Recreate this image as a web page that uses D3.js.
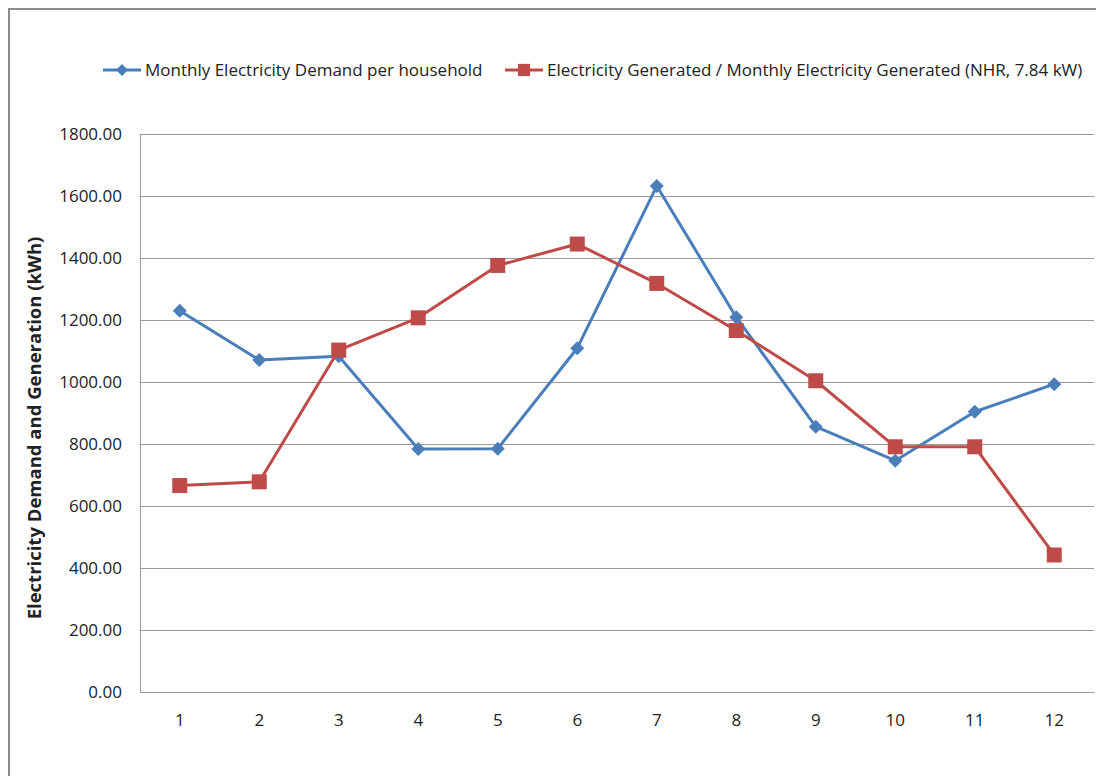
<!DOCTYPE html>
<html>
<head>
<meta charset="utf-8">
<script src="https://cdn.jsdelivr.net/npm/d3@7"></script>
<style>
  html, body { margin: 0; padding: 0; background: #fff; }
  svg text { font-family: "Open Sans", "Noto Sans", sans-serif; fill: #222; }
</style>
</head>
<body>
<svg id="chart" width="1096" height="776"></svg>
<script>
// Months of the year
const months = ["1", "2", "3", "4", "5", "6", "7", "8", "9", "10", "11", "12"];

// Monthly electricity demand per household (kWh)
const demand = [1230, 1071, 1083, 784, 785, 1109, 1632, 1209, 856, 746, 904, 993];

// Monthly electricity generated by a 7.84 kW system (kWh)
const generated = [666, 678, 1103, 1207, 1376, 1445, 1318, 1166, 1004, 791, 791, 442];

// Value axis ticks
const yTicks = [0, 200, 400, 600, 800, 1000, 1200, 1400, 1600, 1800];

const seriesNames = [
  "Monthly Electricity Demand per household",
  "Electricity Generated / Monthly Electricity Generated (NHR, 7.84 kW)"
];
const seriesColors = ["#4a7ebb", "#be4b48"];
const yTitle = "Electricity Demand and Generation (kWh)";

const svg = d3.select("#chart");
const W = 1096, H = 776;
const plot = { left: 140, right: 1094, top: 134, bottom: 692 };

// Outer chart frame (open at right and bottom edges of the canvas)
svg.append("path")
  .attr("d", `M9,${H + 2} L9,9 L${W + 2},9`)
  .attr("fill", "none")
  .attr("stroke", "#8c8c8c")
  .attr("stroke-width", 2);

const x = d3.scaleBand().domain(months).range([plot.left, plot.right]);
const y = d3.scaleLinear().domain([0, 1800]).range([plot.bottom, plot.top]);

// Horizontal gridlines
svg.append("g")
  .selectAll("line")
  .data(yTicks)
  .join("line")
  .attr("x1", plot.left)
  .attr("x2", plot.right)
  .attr("y1", d => Math.round(y(d)) + 0.5)
  .attr("y2", d => Math.round(y(d)) + 0.5)
  .attr("stroke", "#9a9a9a")
  .attr("stroke-width", 1);

// Value axis line
svg.append("line")
  .attr("x1", plot.left + 0.5).attr("x2", plot.left + 0.5)
  .attr("y1", plot.top).attr("y2", plot.bottom)
  .attr("stroke", "#9a9a9a");

// Value axis labels
const yAxis = d3.axisLeft(y).tickValues(yTicks).tickFormat(d3.format(".2f")).tickSize(0).tickPadding(18);
const gy = svg.append("g").attr("transform", `translate(${plot.left},0)`).call(yAxis);
gy.select(".domain").remove();
gy.selectAll("text").attr("font-size", 17).style("font-family", "'Open Sans', sans-serif").attr("fill", "#222");

// Category axis labels
const xAxis = d3.axisBottom(x).tickSize(0).tickPadding(18);
const gx = svg.append("g").attr("transform", `translate(0,${plot.bottom})`).call(xAxis);
gx.select(".domain").remove();
gx.selectAll("text").attr("font-size", 17).attr("dy", "0.95em").style("font-family", "'Open Sans', sans-serif").attr("fill", "#222");

// Value axis title
svg.append("text")
  .attr("transform", `translate(41,${(plot.top + plot.bottom) / 2 + 15}) rotate(-90)`)
  .attr("text-anchor", "middle")
  .attr("font-size", 18.5)
  .attr("font-weight", "bold")
  .text(yTitle);

const line = d3.line()
  .x((d, i) => x(months[i]) + x.bandwidth() / 2)
  .y(d => y(d));

const diamond = d3.symbol().type(d3.symbolDiamond2).size(125);
const square = d3.symbol().type(d3.symbolSquare).size(225);

function drawSeries(values, color, sym) {
  const g = svg.append("g");
  g.append("path")
    .datum(values)
    .attr("d", line)
    .attr("fill", "none")
    .attr("stroke", color)
    .attr("stroke-width", 3)
    .attr("stroke-linejoin", "round");
  g.selectAll("path.m")
    .data(values)
    .join("path")
    .attr("class", "m")
    .attr("transform", (d, i) => `translate(${x(months[i]) + x.bandwidth() / 2},${y(d)})`)
    .attr("d", sym)
    .attr("fill", color);
}

drawSeries(demand, seriesColors[0], diamond);
drawSeries(generated, seriesColors[1], square);

// Legend
const legendY = 70;
const legendStarts = [103, 505];
const legendSyms = [d3.symbol().type(d3.symbolDiamond2).size(90), d3.symbol().type(d3.symbolSquare).size(150)];
seriesNames.forEach((name, i) => {
  const g = svg.append("g").attr("transform", `translate(${legendStarts[i]},${legendY})`);
  g.append("line").attr("x1", 0).attr("x2", 38).attr("y1", 0).attr("y2", 0)
    .attr("stroke", seriesColors[i]).attr("stroke-width", 3);
  g.append("path").attr("transform", "translate(19,0)").attr("d", legendSyms[i]).attr("fill", seriesColors[i]);
  g.append("text").attr("x", 42).attr("y", 6).attr("font-size", 17).text(name);
});
</script>
</body>
</html>
